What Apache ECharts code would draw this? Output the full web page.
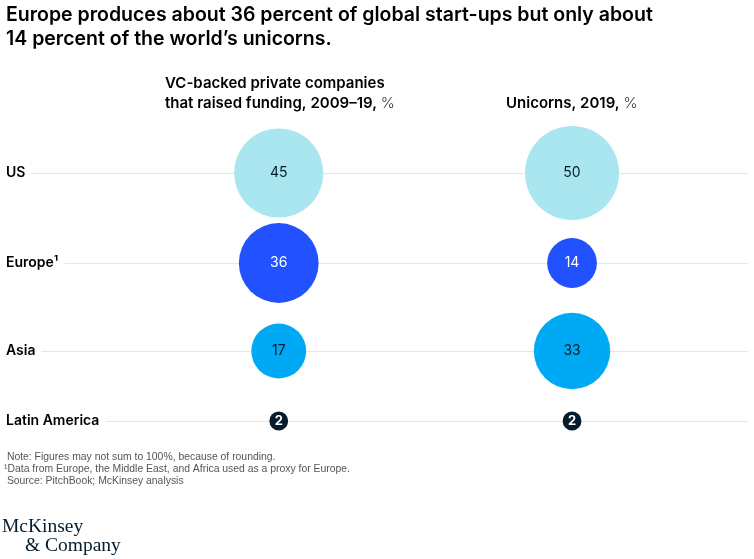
<!DOCTYPE html>
<html>
<head>
<meta charset="utf-8">
<script src="https://cdn.jsdelivr.net/npm/echarts@6.0.0/dist/echarts.min.js"></script>
<style>
html,body{margin:0;padding:0;background:#fff;}
#chart{width:754px;height:559px;}
</style>
</head>
<body>
<div id="chart"></div>
<script>
// ---- data ----
const regions = ['US', 'Europe¹', 'Asia', 'Latin America'];
const vcBackedShare = [45, 36, 17, 2];      // VC-backed private companies that raised funding, 2009–19, %
const unicornShare = [50, 14, 33, 2];       // Unicorns, 2019, %

// ---- styles ----
const regionColors = ['#aae6f0', '#2251ff', '#00a9f4', '#051c2c'];
const regionLabelColors = ['#051c2c', '#ffffff', '#051c2c', '#ffffff'];
const rowCenters = [173, 263, 351, 421];   // layout: row positions in px
const FONT = 'Inter, "Liberation Sans", sans-serif';
const SMALL = '"Liberation Sans", Arial, sans-serif';
const SERIF = '"Liberation Serif", "DejaVu Serif", serif';
const bubbleScale = 13.3; // px diameter per sqrt(percent)

const chart = echarts.init(document.getElementById('chart'), null, {renderer: 'canvas'});

const grids = [], xAxes = [], yAxes = [], series = [];
regions.forEach((name, i) => {
  grids.push({left: 6, right: 6, top: rowCenters[i] - 10, height: 20, containLabel: false});
  xAxes.push({type: 'value', gridIndex: i, min: 0.07, max: 2.6, show: false});
  yAxes.push({
    type: 'category', gridIndex: i, data: [name], z: 10,
    axisLine: {show: false}, axisTick: {show: false}, splitLine: {show: false},
    axisLabel: {
      inside: true, margin: 0, color: '#000', fontFamily: FONT, fontSize: 14, fontWeight: 600,
      backgroundColor: '#fff', padding: [3, 6, 3, 0]
    }
  });
  // gridline
  series.push({
    type: 'scatter', xAxisIndex: i, yAxisIndex: i, data: [], z: 1, silent: true,
    markLine: {
      z: 1, silent: true, symbol: 'none', animation: false, label: {show: false},
      lineStyle: {color: '#e6e6e6', width: 1, type: 'solid'},
      emphasis: {disabled: true},
      data: [{yAxis: name}]
    }
  });
  // bubbles
  const vals = [vcBackedShare[i], unicornShare[i]];
  series.push({
    type: 'scatter', xAxisIndex: i, yAxisIndex: i, z: 3, clip: false, animation: false,
    symbolSize: (d) => bubbleScale * Math.sqrt(d[2]),
    itemStyle: {color: regionColors[i], opacity: 1},
    label: {
      show: true, position: 'inside', formatter: (p) => p.data[2],
      color: regionLabelColors[i], fontFamily: FONT,
      fontSize: vals[0] < 5 ? 13 : 14, fontWeight: vals[0] < 5 ? 700 : 400
    },
    emphasis: {disabled: true},
    data: vals.map((v, c) => [c + 1, name, v])
  });
});

const headerRich = {
  h: {fontFamily: FONT, fontSize: 15, fontWeight: 600, lineHeight: 20, color: '#000'},
  p: {fontFamily: FONT, fontSize: 15, fontWeight: 300, lineHeight: 20, color: '#333'}
};

const option = {
  backgroundColor: '#fff',
  animation: false,
  title: [
    {
      left: 6, top: 3, padding: 0,
      text: 'Europe produces about 36 percent of global start-ups but only about\n14 percent of the world’s unicorns.',
      textStyle: {fontFamily: FONT, fontSize: 19.5, fontWeight: 600, lineHeight: 24, color: '#000'}
    },
    {
      left: 165, top: 73, padding: 0,
      text: '{h|VC-backed private companies}\n{h|that raised funding, 2009–19, }{p|%}',
      textStyle: {rich: headerRich}
    },
    {
      left: 506, top: 93, padding: 0,
      text: '{h|Unicorns, 2019, }{p|%}',
      textStyle: {rich: headerRich}
    },
    {
      left: 4, top: 451, padding: 0,
      text: ' Note: Figures may not sum to 100%, because of rounding.\n¹Data from Europe, the Middle East, and Africa used as a proxy for Europe.\n Source: PitchBook; McKinsey analysis',
      textStyle: {fontFamily: SMALL, fontSize: 10.4, fontWeight: 400, lineHeight: 12, color: '#555'}
    },
    {
      left: 2, top: 517, padding: 0,
      text: 'McKinsey',
      textStyle: {fontFamily: SERIF, fontSize: 19.5, fontWeight: 400, lineHeight: 20, color: '#051c2c'}
    },
    {
      left: 25, top: 536, padding: 0,
      text: '& Company',
      textStyle: {fontFamily: SERIF, fontSize: 19.5, fontWeight: 400, lineHeight: 20, color: '#051c2c'}
    }
  ],
  grid: grids,
  xAxis: xAxes,
  yAxis: yAxes,
  series: series
};
chart.setOption(option);
</script>
</body>
</html>
